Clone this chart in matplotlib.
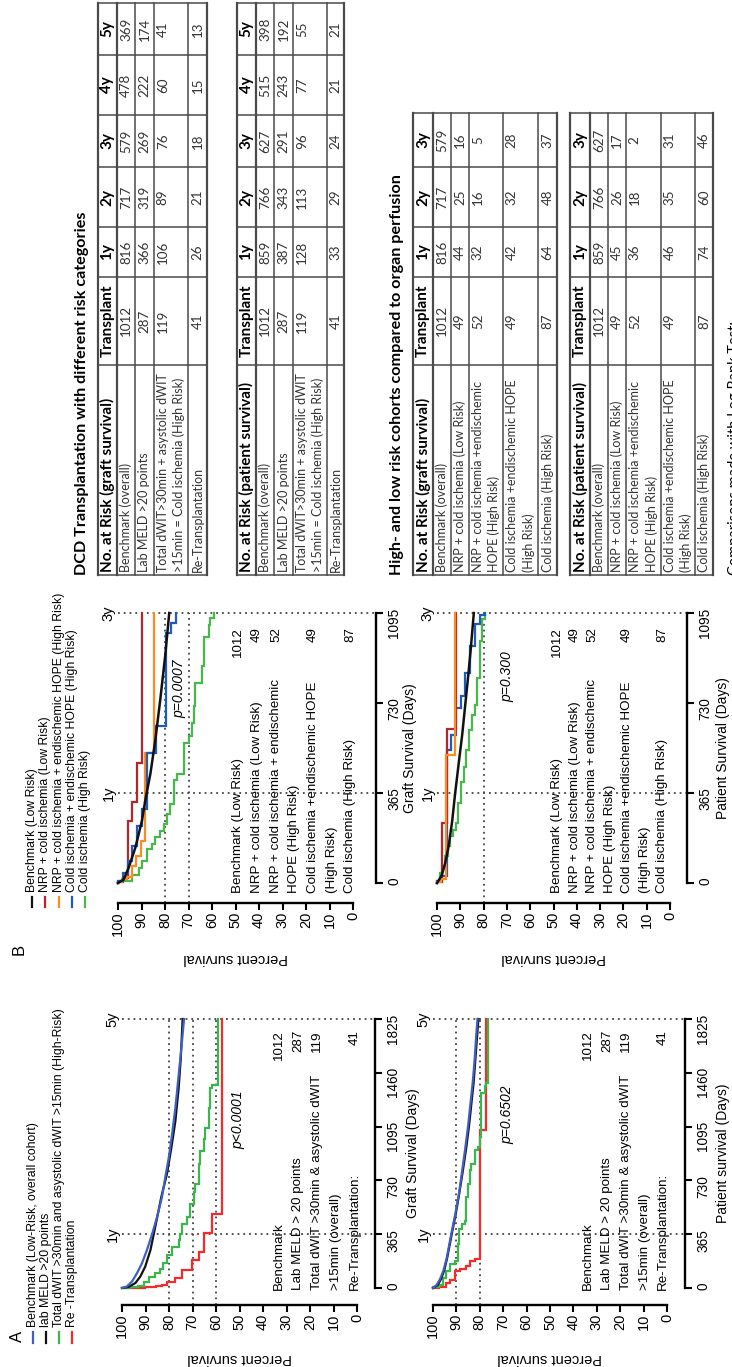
import numpy as np
import matplotlib
matplotlib.use("Agg")
import matplotlib.pyplot as plt

plt.rcParams['font.family'] = ['Liberation Sans', 'DejaVu Sans']

# ---- Kaplan-Meier curves, (days, percent survival) ----
# A: graft survival
ga_bench_t = [0, 11, 45, 101, 168, 257, 365, 481, 616, 750, 884, 1041, 1220, 1444, 1668, 1825]
ga_bench_s = [100, 97.9, 95.7, 93.6, 91.5, 89.4, 87.2, 85.1, 83.0, 81.6, 80.1, 78.7, 77.3, 75.9, 74.5, 73.6]
ga_meld_t = [0, 7, 34, 78, 146, 257, 365, 504, 616, 772, 951, 1131, 1355, 1556, 1825]
ga_meld_s = [100, 97.2, 94.3, 92.2, 90.1, 87.9, 86.5, 84.7, 83.3, 80.9, 79.0, 77.3, 75.9, 75.0, 74.2]
ga_dwit_t = [0, 3, 8, 16, 38, 74, 101, 130, 168, 224, 280, 325, 369, 437, 481, 571, 649, 705,
             840, 929, 1008, 1086, 1220, 1355, 1377, 1825]
ga_dwit_s = [100, 96.6, 93.3, 90.8, 88.7, 85.8, 84.0, 82.4, 80.9, 78.7, 75.9, 75.2, 74.5, 72.3, 70.9,
             69.5, 68.8, 67.4, 66.7, 65.2, 64.5, 63.1, 62.4, 61.7, 59.1, 59.1]
ga_retx_t = [0, 1, 2, 3, 5, 8, 14, 22, 38, 67, 123, 190, 246, 370, 500, 1825]
ga_retx_s = [100, 95.1, 92.7, 90.2, 87.8, 85.4, 83.0, 80.9, 77.3, 74.5, 70.2, 67.1, 65.2, 61.7, 57.4, 57.4]

# A: patient survival
pa_bench_t = [0, 20, 60, 120, 200, 365, 500, 650, 800, 950, 1100, 1250, 1400, 1550, 1700, 1825]
pa_bench_s = [100, 98.5, 97.0, 95.5, 94.2, 92.2, 90.5, 88.8, 87.5, 86.2, 85.0, 84.0, 83.0, 82.2, 81.6, 81.0]
pa_meld_t = [0, 20, 60, 120, 200, 365, 500, 650, 800, 950, 1100, 1250, 1400, 1550, 1700, 1825]
pa_meld_s = [100, 98.0, 96.6, 95.2, 94.0, 92.0, 90.3, 88.7, 87.2, 85.8, 84.6, 83.6, 82.6, 81.9, 81.2, 80.6]
pa_dwit_t = [0, 5, 20, 68, 114, 160, 182, 297, 399, 433, 456, 616, 707, 798, 844, 935, 958, 1026,
             1323, 1369, 1391, 1825]
pa_dwit_s = [100, 97.5, 95.8, 94.3, 92.9, 90.7, 89.3, 88.9, 87.5, 86.5, 85.8, 85.0, 84.3, 83.6, 82.2,
             80.8, 80.1, 79.3, 77.9, 77.2, 76.5, 76.5]
pa_retx_t = [0, 3, 8, 34, 57, 114, 130, 150, 182, 194, 1072, 1825]
pa_retx_s = [100, 97.6, 94.3, 92.9, 90.7, 88.6, 85.8, 84.3, 82.2, 80.1, 77.2, 77.2]

# B: graft survival
gb_bench_t = [0, 14, 61, 144, 253, 335, 444, 581, 745, 923, 1095]
gb_bench_s = [100, 97.6, 95.5, 92.6, 89.8, 88.4, 86.2, 84.1, 82.0, 79.9, 78.2]
gb_nrp_t = [0, 3, 20, 253, 328, 485, 1095]
gb_nrp_s = [100, 98.0, 95.9, 93.9, 91.8, 89.8, 89.8]
gb_nrph_t = [0, 5, 15, 25, 70, 110, 170, 526, 1095]
gb_nrph_s = [100, 98.1, 96.2, 94.2, 92.3, 90.4, 88.5, 84.6, 84.6]
gb_coldh_t = [0, 10, 40, 90, 150, 230, 300, 526, 636, 1012, 1053, 1095]
gb_coldh_s = [100, 98.0, 95.9, 93.9, 91.8, 89.8, 87.8, 83.7, 79.6, 77.6, 75.5, 75.5]
gb_cold_t = [0, 10, 34, 62, 89, 137, 157, 185, 212, 239, 280, 321, 417, 444, 567, 595, 649, 718,
             813, 882, 998, 1046, 1073, 1095]
gb_cold_s = [100, 94.0, 91.2, 89.8, 87.7, 85.5, 84.1, 82.0, 80.6, 79.1, 77.7, 76.3, 74.9, 72.1, 69.6,
             68.5, 67.8, 67.1, 64.3, 63.5, 61.4, 60.7, 59.3, 59.3]

# B: patient survival
pb_bench_t = [0, 30, 80, 150, 250, 365, 500, 600, 730, 850, 950, 1095]
pb_bench_s = [100, 98.0, 96.5, 95.0, 93.5, 92.2, 90.5, 89.2, 87.8, 86.5, 85.5, 84.2]
pb_nrp_t = [0, 3, 243, 623, 1095]
pb_nrp_s = [100, 98.0, 95.9, 91.8, 91.8]
pb_nrph_t = [0, 3, 15, 521, 1095]
pb_nrph_s = [100, 98.1, 96.2, 92.3, 92.3]
pb_coldh_t = [0, 8, 30, 540, 600, 710, 760, 850, 960, 1050, 1088, 1095]
pb_coldh_s = [100, 98.0, 95.9, 93.9, 91.8, 89.8, 87.8, 85.7, 83.7, 81.6, 79.6, 79.6]
pb_cold_t = [0, 10, 40, 70, 110, 150, 190, 215, 245, 325, 410, 470, 540, 620, 680, 720, 830, 980, 1070, 1095]
pb_cold_s = [100, 98.9, 97.7, 96.6, 95.4, 94.3, 93.1, 92.0, 90.8, 89.7, 88.5, 87.4, 86.2, 85.1, 83.9,
             82.8, 81.6, 80.5, 79.3, 79.3]

# ---- labels ----
legend_a = ["Benchmark (Low-Risk, overall cohort)", "lab MELD >20 points",
            "Total dWIT >30min and asystolic dWIT >15min (High-Risk)", "Re -Transplantation"]
colors_a = ["#3f5fc4", "#111111", "#3cb64a", "#f52a2a"]
legend_b = ["Benchmark (Low Risk)", "NRP + cold ischemia (Low Risk)",
            "NRP + cold ischemia + endischemic HOPE (High Risk)",
            "Cold ischemia + endischemic HOPE (High Risk)", "Cold ischemia (High Risk)"]
colors_b = ["#111111", "#b3262b", "#ff8a1e", "#1f5ac4", "#47b94a"]

rows_a = ["Benchmark", "Lab MELD > 20 points", "Total dWIT >30min & asystolic dWIT",
          ">15min (overall)", "Re-Transplantation:"]
counts_a = ["1012", "287", "119", "", "41"]
rows_b = ["Benchmark (Low Risk)", "NRP + cold ischemia (Low Risk)", "NRP + cold ischemia + endischemic",
          "HOPE (High Risk)", "Cold ischemia +endischemic HOPE", "(High Risk)", "Cold ischemia (High Risk)"]
counts_b = ["1012", "49", "52", "", "49", "", "87"]

# ---- number-at-risk tables ----
dcd_rows = [["Benchmark (overall)"], ["Lab MELD >20 points"],
            ["Total dWIT>30min + asystolic dWIT", ">15min = Cold ischemia (High Risk)"],
            ["Re-Transplantation"]]
dcd_cols = ["Transplant", "1y", "2y", "3y", "4y", "5y"]
dcd_graft = [[1012, 816, 717, 579, 478, 369], [287, 366, 319, 269, 222, 174],
             [119, 106, 89, 76, 60, 41], [41, 26, 21, 18, 15, 13]]
dcd_patient = [[1012, 859, 766, 627, 515, 398], [287, 387, 343, 291, 243, 192],
               [119, 128, 113, 96, 77, 55], [41, 33, 29, 24, 21, 21]]
hl_rows = [["Benchmark (overall)"], ["NRP + cold ischemia (Low Risk)"],
           ["NRP + cold ischemia +endischemic", "HOPE (High Risk)"],
           ["Cold ischemia +endischemic HOPE", "(High Risk)"], ["Cold ischemia (High Risk)"]]
hl_cols = ["Transplant", "1y", "2y", "3y"]
hl_graft = [[1012, 816, 717, 579], [49, 44, 25, 16], [52, 32, 16, 5], [49, 42, 32, 28], [87, 64, 48, 37]]
hl_patient = [[1012, 859, 766, 627], [49, 45, 26, 17], [52, 36, 18, 2], [49, 46, 35, 31], [87, 74, 60, 46]]

W, H = 732, 1367
fig = plt.figure(figsize=(W / 100, H / 100), dpi=100)

# page-level canvas in pixel units (y grows downward), used for tables and free text
bg = fig.add_axes([0, 0, 1, 1])
bg.set_xlim(0, W)
bg.set_ylim(H, 0)
bg.axis('off')


def vtext(x, y, s, ha='left', **kw):
    # text turned a quarter turn, reading upward
    kw.setdefault('va', 'center')
    return bg.text(x, y, s, rotation=90, rotation_mode='anchor', ha=ha, **kw)


def km_path(t, s):
    t = np.asarray(t, float)
    s = np.asarray(s, float)
    return np.repeat(s, 2)[:-1], np.repeat(t, 2)[1:]


def km_axes(x100, x0, y_day0, y_end, tmax, day_ticks, off_pct, off_day, day_label, pct_lab_y, day_lab_x):
    ax = fig.add_axes([x100 / W, 1 - y_day0 / H, (x0 - x100) / W, (y_day0 - y_end) / H])
    ax.set_xlim(100, 0)
    ax.set_ylim(0, tmax)
    ax.patch.set_visible(False)
    ax.spines['top'].set_visible(False)
    ax.spines['left'].set_visible(False)
    ax.spines['bottom'].set_position(('outward', off_pct * 0.72))
    ax.spines['right'].set_position(('outward', off_day * 0.72))
    for s in ('bottom', 'right'):
        ax.spines[s].set_linewidth(1.7)
    ax.yaxis.tick_right()
    ax.set_xticks(np.arange(0, 101, 10))
    ax.set_yticks(day_ticks)
    ax.tick_params(axis='both', width=1.5, length=5, direction='out')
    ax.tick_params(axis='x', labelrotation=90, labelsize=10.5, pad=1)
    ax.tick_params(axis='y', labelrotation=90, labelsize=9.8, pad=3)
    ax.set_xlabel('Percent survival', rotation=180, fontsize=10.5)
    ax.xaxis.set_label_coords(0.5, (y_day0 - pct_lab_y) / (y_day0 - y_end))
    ax.xaxis.label.set_va('center')
    ax.yaxis.set_label_position('right')
    ax.set_ylabel(day_label, rotation=90, fontsize=10)
    ax.yaxis.set_label_coords((day_lab_x - x100) / (x0 - x100), 0.5)
    ax.yaxis.label.set_va('center')
    ax.yaxis.label.set_ha('center')
    px_day = (y_day0 - y_end) / tmax
    px_pct = (x0 - x100) / 100.0
    ax._below = -off_pct / px_day
    ax._beyond = -off_day / px_pct
    return ax


def ref_lines(ax, pcts, days, tmax, mark):
    dot = dict(color='#444444', lw=1.3, ls=(0, (1, 2.2)), clip_on=False, zorder=1)
    for p in pcts:
        ax.plot([p, p], [ax._below, tmax], **dot)
    for d, m in zip(days, mark):
        ax.plot([100, ax._beyond], [d, d], **dot)
        ax.text(104, d, m, rotation=90, ha='center', va='center', fontsize=10.5, clip_on=False)


def curve(ax, t, s, color, steps=True, lw=1.6):
    if steps:
        x, y = km_path(t, s)
    else:
        x, y = s, t
    ax.plot(x, y, color=color, lw=lw, clip_on=False, zorder=3, solid_joinstyle='miter')


# ---- panel A ----
ax = km_axes(122, 357, 1288, 1019, 1825, [0, 365, 730, 1095, 1460, 1825], 17, 18,
             'Graft Survival (Days)', 1358, 413)
ref_lines(ax, [80, 70, 60], [365, 1825], 1825, ['1y', '5y'])
curve(ax, ga_retx_t, ga_retx_s, colors_a[3])
curve(ax, ga_dwit_t, ga_dwit_s, colors_a[2])
curve(ax, ga_meld_t, ga_meld_s, colors_a[1], steps=False)
curve(ax, ga_bench_t, ga_bench_s, colors_a[0], steps=False)

ax = km_axes(433, 667, 1288, 1019, 1825, [0, 365, 730, 1095, 1460, 1825], 17, 18,
             'Patient survival (Days)', 1358, 723)
ref_lines(ax, [90, 80], [365, 1825], 1825, ['1y', '5y'])
curve(ax, pa_retx_t, pa_retx_s, colors_a[3])
curve(ax, pa_dwit_t, pa_dwit_s, colors_a[2])
curve(ax, pa_meld_t, pa_meld_s, colors_a[1], steps=False)
curve(ax, pa_bench_t, pa_bench_s, colors_a[0], steps=False)

# ---- panel B ----
ax = km_axes(118, 353, 883, 613, 1095, [0, 365, 730, 1095], 20, 23,
             'Graft Survival (Days)', 958, 410)
ref_lines(ax, [80, 70], [365, 1095], 1095, ['1y', '3y'])
curve(ax, gb_cold_t, gb_cold_s, colors_b[4])
curve(ax, gb_nrp_t, gb_nrp_s, colors_b[1])
curve(ax, gb_nrph_t, gb_nrph_s, colors_b[2])
curve(ax, gb_coldh_t, gb_coldh_s, colors_b[3])
curve(ax, gb_bench_t, gb_bench_s, colors_b[0], steps=False, lw=1.8)

ax = km_axes(437, 670, 883, 613, 1095, [0, 365, 730, 1095], 20, 17,
             'Patient Survival (Days)', 958, 723)
ref_lines(ax, [80], [365, 1095], 1095, ['1y', '3y'])
curve(ax, pb_cold_t, pb_cold_s, colors_b[4])
curve(ax, pb_coldh_t, pb_coldh_s, colors_b[3])
curve(ax, pb_nrp_t, pb_nrp_s, colors_b[1])
curve(ax, pb_nrph_t, pb_nrph_s, colors_b[2])
curve(ax, pb_bench_t, pb_bench_s, colors_b[0], steps=False, lw=1.8)

# in-plot cohort labels with group sizes
for xs, y0, ytop in [([279, 298, 317, 336, 355], 1290, 1030), ([588, 607, 626, 645, 663], 1290, 1030)]:
    for x, lab, n in zip(xs, rows_a, counts_a):
        vtext(x, y0, lab, fontsize=9.6)
        if n:
            vtext(x, ytop, n, ha='right', fontsize=9.6)
for xs, y0, ytop in [([238, 257, 276, 294, 313, 332, 350], 893, 627),
                     ([557, 575, 592, 610, 627, 645, 662], 893, 627)]:
    for x, lab, n in zip(xs, rows_b, counts_b):
        vtext(x, y0, lab, fontsize=9.6)
        if n:
            vtext(x, ytop, n, ha='right', fontsize=9.6)

vtext(238, 1120, 'p<0.0001', ha='center', fontsize=10, style='italic')
vtext(507, 1115, 'p=0.6502', ha='center', fontsize=10, style='italic')
vtext(179, 689, 'p=0.0007', ha='center', fontsize=10, style='italic')
vtext(507, 677, 'p=0.300', ha='center', fontsize=10, style='italic')

# legends
vtext(17, 1342, 'A', fontsize=12)
for i, (lab, c) in enumerate(zip(legend_a, colors_a)):
    x = 33 + 13 * i
    bg.plot([x, x], [1343, 1332], color=c, lw=1.6)
    vtext(x, 1327, lab, fontsize=8.8)
vtext(19, 955, 'B', fontsize=12)
for i, (lab, c) in enumerate(zip(legend_b, colors_b)):
    x = 32 + 13.3 * i
    bg.plot([x, x], [907, 897], color=c, lw=1.6)
    vtext(x, 892, lab, fontsize=8.8)

# ---- tables ----
tfont = 'Lato'


def table(row_x, col_y, header, cols, rows, vals):
    lc = '#4a4a4a'
    for i, x in enumerate(row_x):
        bg.plot([x, x], [col_y[0], col_y[-1]], color=lc, lw=1.6 if i in (0, 1, len(row_x) - 1) else 1.1)
    for y in col_y:
        bg.plot([row_x[0], row_x[-1]], [y, y], color=lc, lw=1.1)
    hx = (row_x[0] + row_x[1]) / 2
    vtext(hx, col_y[0] - 3, header, fontsize=11, fontweight='bold', family=tfont)
    for j, c in enumerate(cols):
        vtext(hx, (col_y[j + 1] + col_y[j + 2]) / 2, c, ha='center', fontsize=11,
              fontweight='bold', family=tfont)
    for r, (lab, v) in enumerate(zip(rows, vals)):
        xa, xb = row_x[r + 1], row_x[r + 2]
        if len(lab) == 1:
            xs = [(xa + xb) / 2]
        else:
            xs = [xa + 8.8, xb - 8.8]
        for x, line in zip(xs, lab):
            vtext(x, col_y[0] - 3, line, fontsize=9, color='#333333', family=tfont)
        for j, n in enumerate(v):
            vtext(xs[0], (col_y[j + 1] + col_y[j + 2]) / 2, str(n), ha='center', fontsize=9.6,
                  color='#333333', family=tfont)


dcd_y = [575, 365, 277, 227, 167, 115, 55, 3]
hl_y = [575, 365, 277, 227, 167, 113]
vtext(82, 575, 'DCD Transplantation with different risk categories', fontsize=11.6,
      fontweight='bold', family=tfont)
table([98, 117, 135, 154, 188, 207], dcd_y, 'No. at Risk (graft survival)', dcd_cols, dcd_rows, dcd_graft)
table([237, 256, 274, 293, 327, 344], dcd_y, 'No. at Risk (patient survival)', dcd_cols, dcd_rows, dcd_patient)
vtext(397, 575, 'High- and low risk cohorts compared to organ perfusion', fontsize=11.6,
      fontweight='bold', family=tfont)
table([413, 433, 451, 469, 503, 538, 557], hl_y, 'No. at Risk (graft survival)', hl_cols, hl_rows, hl_graft)
table([570, 590, 608, 626, 661, 695, 713], hl_y, 'No. at Risk (patient survival)', hl_cols, hl_rows, hl_patient)
vtext(735, 575, 'Comparisons made with Log Rank Test:', fontsize=10.5, family=tfont)

fig.savefig('out.png', dpi=100)
